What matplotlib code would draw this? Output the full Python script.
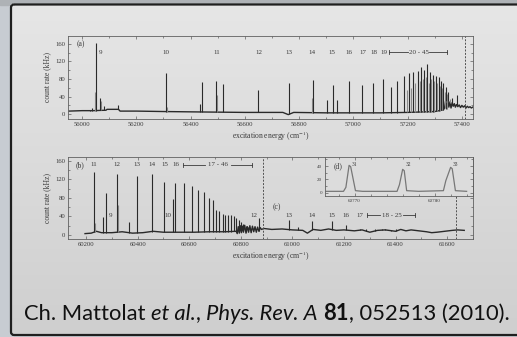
import numpy as np
import matplotlib
matplotlib.use('Agg')
import matplotlib.pyplot as plt
from matplotlib.patches import FancyBboxPatch, Rectangle
from matplotlib.ticker import MultipleLocator

plt.rcParams['font.family'] = 'Liberation Serif'
plt.rcParams['mathtext.fontset'] = 'stix'

# ---------- panel (a): 56000 - 57400 cm-1 ----------
a_base_x = [55952, 56000, 56040, 56088, 56092, 56134, 56140, 56200, 56300, 56440, 56600, 56740,
            56760, 56780, 56900, 57000, 57100, 57200, 57300, 57332,
            57336, 57340, 57344, 57348, 57352, 57356, 57360, 57364, 57368, 57372, 57376, 57380,
            57385, 57390, 57395, 57400, 57405, 57410, 57415, 57420, 57425, 57430, 57435, 57440]
a_base_y = [7, 8, 8, 9, 11, 11, 7, 7, 6, 5, 4, 4,
            -1, 4, 3, 3, 3, 4, 6, 10,
            14, 30, 12, 34, 16, 28, 14, 26, 18, 24, 16, 22,
            17, 21, 15, 20, 16, 19, 14, 18, 15, 17, 14, 16]
a_peak_x = [56028, 56038, 56050, 56065, 56080, 56107, 56134, 56308, 56436, 56442, 56494, 56521,
            56650, 56762, 56850, 56904, 56924, 56941, 56983, 57033, 57074, 57108, 57138, 57162,
            57187, 57205, 57221, 57238, 57250, 57261, 57272, 57282, 57294, 57304, 57314, 57323,
            57332, 57340, 57349, 57363, 57381]
a_peak_h = [10, 15, 161, 36, 18, 11, 21, 93, 24, 74, 75, 68,
            55, 72, 78, 32, 66, 32, 76, 66, 70, 80, 62, 76,
            87, 94, 97, 99, 107, 101, 114, 97, 89, 87, 85, 76,
            72, 61, 51, 37, 43]
a_gray_x = [56048, 56068, 56313, 56499, 56848, 57196, 57213, 57229, 57244, 57256, 57266, 57277,
            57288, 57299, 57309, 57318, 57327, 57336, 57344, 57355]
a_gray_h = [51, 31, 17, 43, 36, 55, 60, 70, 75, 80, 85, 70,
            80, 75, 70, 65, 60, 50, 45, 35]
a_labels = ['9', '10', '11', '12', '13', '14', '15', '16', '17', '18', '19']
a_label_x = [56068, 56309, 56498, 56653, 56761, 56849, 56922, 56984, 57037, 57075, 57112]

# ---------- panels (b)/(c): 60200 - 61600 cm-1 ----------
b_base_x = [60196, 60220, 60240, 60260, 60300, 60340, 60380, 60420, 60460, 60500, 60560, 60620,
            60680, 60740, 60782,
            60786, 60790, 60794, 60798, 60802, 60806, 60810, 60815, 60820, 60825, 60830, 60835,
            60840, 60845, 60850, 60855, 60860, 60865, 60870, 60875, 60880,
            60890, 60920, 60960, 61000, 61040, 61058, 61080, 61110, 61140, 61170, 61200, 61240,
            61270, 61300, 61330, 61360, 61400, 61420, 61440, 61460, 61490, 61520, 61540, 61560,
            61590, 61620, 61640, 61666]
b_base_y = [3, 4, 8, 5, 5, 7, 4, 5, 8, 6, 6, 6,
            7, 7, 8,
            3, 18, 4, 20, 5, 19, 6, 21, 4, 18, 6, 20,
            5, 19, 7, 18, 6, 17, 8, 16, 12,
            14, 12, 13, 11, 10, 4, 12, 10, 13, 10, 11, 9,
            11, 6, 10, 11, 8, 12, 9, 11, 9, 7, 5, 6,
            8, 10, 11, 10]
b_peak_x = [60232, 60267, 60277, 60321, 60367, 60396, 60454, 60503, 60536, 60545, 60580, 60610,
            60634, 60657, 60677, 60691, 60704, 60716, 60730, 60740, 60751, 60762, 60772, 60782,
            60792, 60801, 60809, 60819, 60827, 60871, 60988, 61020, 61074, 61152, 61206, 61262,
            61285, 61320, 61346, 61358, 61384, 61400]
b_peak_h = [136, 39, 90, 131, 27, 127, 131, 115, 77, 113, 112, 106,
            97, 93, 80, 75, 54, 52, 45, 44, 44, 43, 40, 36,
            32, 29, 24, 19, 17, 36, 32, 17, 31, 31, 22, 14,
            12, 14, 12, 13, 11, 12]
b_gray_x = [60235, 60324]
b_gray_h = [26, 65]
b_labels = ['11', '12', '13', '14', '15', '16']
b_label_x = [60232, 60321, 60396, 60454, 60505, 60550]
c_labels = ['13', '14', '15', '16', '17']
c_label_x = [60988, 61074, 61152, 61206, 61262]

# ---------- inset (d) ----------
d_x = [60766.4, 60768.6, 60768.9, 60769.3, 60769.5, 60770.1, 60771.0, 60775.3, 60775.6,
       60776.0, 60776.2, 60776.5, 60778.0, 60781.1, 60781.4, 60782.0, 60782.2, 60782.6, 60784.0]
d_y = [2, 2, 8, 41, 39, 3, 2, 2, 12, 35, 33, 3, 2, 3, 18, 38, 36, 3, 2]
d_labels = ['31', '32', '33']
d_label_x = [60770.0, 60776.7, 60782.6]

W, H = 517, 337
fig = plt.figure(figsize=(W / 100, H / 100), dpi=100)

# slide background
bg = fig.add_axes([0, 0, 1, 1])
bg.add_patch(Rectangle((0, 0), W, H, color='#c7ccd2', zorder=0))
bg.add_patch(Rectangle((0, 0), W, 5, color='#aeb2b6', zorder=0))
grad = np.linspace(0, 1, 100)[:, None]
bg.imshow(grad, cmap=matplotlib.colors.LinearSegmentedColormap.from_list('g', ['#e6e6e6', '#cfcfcf']),
          extent=(11, W + 30, 335, 4), aspect='auto', zorder=1)
bg.add_patch(FancyBboxPatch((11, 4.5), W + 40, 330.5, boxstyle='round,pad=0,rounding_size=3',
                            fill=False, ec='#1f1f1f', lw=1.6, zorder=2))
bg.set_xlim(0, W)
bg.set_ylim(H, 0)
bg.axis('off')

ink = '#2a2a2a'
txt = '#3a3a3a'


def style(ax, xmaj, xmin, ymaj, ymin, size=4.8):
    ax.set_facecolor('none')
    for sp in ax.spines.values():
        sp.set_color('#606060')
        sp.set_linewidth(0.6)
    ax.xaxis.set_major_locator(MultipleLocator(xmaj))
    ax.xaxis.set_minor_locator(MultipleLocator(xmin))
    ax.yaxis.set_major_locator(MultipleLocator(ymaj))
    ax.yaxis.set_minor_locator(MultipleLocator(ymin))
    ax.tick_params(which='both', direction='in', top=True, right=True, colors='#606060',
                   labelcolor=txt, labelsize=size, width=0.5, pad=2)
    ax.tick_params(which='major', length=2.5)
    ax.tick_params(which='minor', length=1.5)


def bracket(ax, x0, x1, t0, t1, y, label):
    ax.plot([x0, t0], [y, y], color=txt, lw=0.6)
    ax.plot([t1, x1], [y, y], color=txt, lw=0.6)
    ax.plot([x0, x0], [y - 5, y + 5], color=txt, lw=0.6)
    ax.plot([x1, x1], [y - 5, y + 5], color=txt, lw=0.6)
    ax.text((t0 + t1) / 2, y, label, ha='center', va='center', fontsize=5, color=txt)


# ----- (a) -----
axa = fig.add_axes([68 / W, 1 - 119 / H, 405 / W, 83 / H])
style(axa, 200, 100, 40, 20)
axa.plot(a_base_x, a_base_y, color=ink, lw=1.0)
axa.vlines(a_gray_x, np.interp(a_gray_x, a_base_x, a_base_y), a_gray_h, color='#8a8a8a', lw=0.8)
axa.vlines(a_peak_x, np.interp(a_peak_x, a_base_x, a_base_y), a_peak_h, color=ink, lw=0.8)
axa.axvline(57412, color='#505050', lw=0.7, ls=(0, (2, 1.5)))
axa.set_xlim(55948, 57441)
axa.set_ylim(-11, 178)
for s, x in zip(a_labels, a_label_x):
    axa.text(x, 141, s, ha='center', va='center', fontsize=5, color=txt)
bracket(axa, 57131, 57345, 57200, 57280, 141, '20 - 45')
axa.text(55994, 159, '(a)', ha='center', va='center', fontsize=5.5, color=txt)
axa.set_xlabel('excitation energy (cm$^{-1}$)', fontsize=5.5, color=txt, labelpad=2)
axa.set_ylabel('count rate (kHz)', fontsize=5.5, color=txt, labelpad=3)

# ----- (b)/(c) -----
axb = fig.add_axes([68 / W, 1 - 239 / H, 405 / W, 82 / H])
style(axb, 200, 100, 40, 20)
axb.plot(b_base_x, b_base_y, color=ink, lw=1.0)
axb.vlines(b_gray_x, np.interp(b_gray_x, b_base_x, b_base_y), b_gray_h, color='#8a8a8a', lw=0.8)
axb.vlines(b_peak_x, np.interp(b_peak_x, b_base_x, b_base_y), b_peak_h, color=ink, lw=0.8)
axb.axvline(60887, color='#505050', lw=0.7, ls=(0, (2, 1.5)))
axb.axvline(61636, color='#505050', lw=0.7, ls=(0, (2, 1.5)))
axb.set_xlim(60130, 61700)
axb.set_ylim(-8.6, 168)
for s, x in zip(b_labels, b_label_x):
    axb.text(x, 151, s, ha='center', va='center', fontsize=5, color=txt)
bracket(axb, 60577, 60844, 60662, 60762, 151, '17 - 46')
axb.text(60177, 151, '(b)', ha='center', va='center', fontsize=5.5, color=txt)
axb.text(60293, 43, '9', ha='center', va='center', fontsize=5, color=txt)
axb.text(60519, 43, '10', ha='center', va='center', fontsize=5, color=txt)
axb.text(60852, 43, '12', ha='center', va='center', fontsize=5, color=txt)
axb.text(60939, 60, '(c)', ha='center', va='center', fontsize=5.5, color=txt)
for s, x in zip(c_labels, c_label_x):
    axb.text(x, 43, s, ha='center', va='center', fontsize=5, color=txt)
bracket(axb, 61291, 61477, 61340, 61428, 43, '18 - 25')
axb.set_xlabel('excitation energy (cm$^{-1}$)', fontsize=5.5, color=txt, labelpad=2)
axb.set_ylabel('count rate (kHz)', fontsize=5.5, color=txt, labelpad=3)

# ----- inset (d) -----
axd = fig.add_axes([324.7 / W, 1 - 196 / H, 148.3 / W, 39.3 / H])
style(axd, 10, 2, 20, 10, size=3.6)
axd.set_facecolor('#dcdcdc')
axd.plot(d_x, d_y, color='#777777', lw=0.9)
axd.set_xlim(60766.25, 60784.8)
axd.set_ylim(-5, 54)
for s, x in zip(d_labels, d_label_x):
    axd.text(x, 43, s, ha='center', va='center', fontsize=4, color=txt)
axd.text(60767.95, 40, '(d)', ha='center', va='center', fontsize=5.5, color=txt)

# ----- caption -----
pieces = [('Ch. Mattolat', 'normal', 'normal', True),
          ('et al.', 'italic', 'normal', False),
          (',', 'normal', 'normal', True),
          ('Phys. Rev. A', 'italic', 'normal', True),
          ('81', 'normal', 'bold', False),
          (', 052513 (2010).', 'normal', 'normal', False)]
cap_font = 'Lato'
cap_size = 15.8
fig.canvas.draw()
r = fig.canvas.get_renderer()
t1 = fig.text(0, 0, 'a a', fontsize=cap_size, family=cap_font)
t2 = fig.text(0, 0, 'aa', fontsize=cap_size, family=cap_font)
space = t1.get_window_extent(r).width - t2.get_window_extent(r).width
t1.remove()
t2.remove()
x = 24
for s, st, wt, sp in pieces:
    t = fig.text(x / W, 1 - 314 / H, s, fontsize=cap_size, family=cap_font, style=st,
                 weight=wt, va='center', ha='left', color='#111111')
    x += t.get_window_extent(r).width + (space if sp else 0)

fig.savefig('out.png', dpi=100)
